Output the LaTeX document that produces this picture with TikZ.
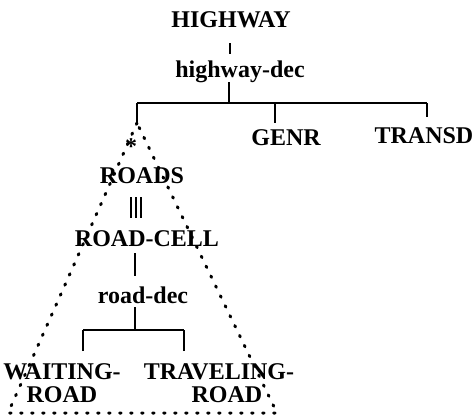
\documentclass[tikz,border=0pt]{standalone}
\usepackage{fontspec}
\setmainfont{Liberation Serif}
\begin{document}
\begin{tikzpicture}[x=1pt,y=-1pt,
  lab/.style={font=\fontsize{24}{23}\selectfont\bfseries, inner sep=0pt},
  capl/.style={lab, text height=16pt, text depth=0pt},
  lowl/.style={lab, text height=17pt, text depth=5pt},
  edge/.style={line width=2pt},
  thin3/.style={line width=1.3pt},
  dots/.style={line width=3pt, line cap=round, dash pattern=on 1.5pt off 9.5pt}]
\useasboundingbox (0,0) rectangle (472,420);

% top level
\node[capl] (hw) at (231,20) {HIGHWAY};
\node[lowl] (hwd) at (240,72) {highway-dec};
\node[capl] (genr) at (286,137.5) {GENR};
\node[capl] (transd) at (424,135) {TRANSD};

% junction points of the upper bar
\coordinate (j1) at (229,103);
\coordinate (bl) at (137,103);
\coordinate (bg) at (275,103);
\coordinate (br) at (427,103);
\coordinate (apex) at (137,123);

\draw[edge, shorten <=15pt, shorten >=6.5pt] ([xshift=-1pt]hw.south) -- ([xshift=-10pt]hwd.north);
\draw[edge, shorten <=-1pt] ([xshift=-11pt]hwd.south) -- (j1);
\draw[edge] (bl) -- (br);
\draw[edge] (bl) -- (apex);
\draw[edge, shorten <=6.5pt] (genr.north -| bg) -- (bg);
\draw[edge, shorten <=10pt] (transd.north -| br) -- (br);

% expanded entity under the first child
\node[lab, font=\fontsize{24}{24}\selectfont\bfseries] (star) at (131,147) {*};
\node[capl] (roads) at (142,175) {ROADS};
\node[capl] (rcell) at (147,238) {ROAD-CELL};
\node[lowl] (rdec) at (143,297) {road-dec};

\foreach \dx in {-5,0,5}
  \draw[thin3, shorten <=14pt, shorten >=12pt]
    ([xshift=\dx pt-6pt]roads.south) -- ([xshift=\dx pt-11pt]rcell.north);
\draw[edge, shorten <=7pt, shorten >=9.5pt] ([xshift=-12pt]rcell.south) -- ([xshift=-8pt]rdec.north);

\coordinate (j2) at (135,330);
\coordinate (b2l) at (83,330);
\coordinate (b2r) at (184,330);
\draw[edge, shorten <=-1pt] ([xshift=-8pt]rdec.south) -- (j2);
\draw[edge] (b2l) -- (b2r);

\node[lab, align=center, anchor=north] (wait) at (62,363) {WAITING-\\ROAD};
\node[lab, align=center, anchor=north] (trav) at (219,363) {TRAVELING-\\\hspace*{16pt}ROAD};

\draw[edge, shorten <=12pt] (wait.north -| b2l) -- (b2l);
\draw[edge, shorten <=12pt] (trav.north -| b2r) -- (b2r);

% dotted outline of the expansion
\coordinate (tl) at (8,413);
\coordinate (tr) at (277,413);
\draw[dots] (apex) -- (tl) -- (tr) -- cycle;
\end{tikzpicture}
\end{document}
